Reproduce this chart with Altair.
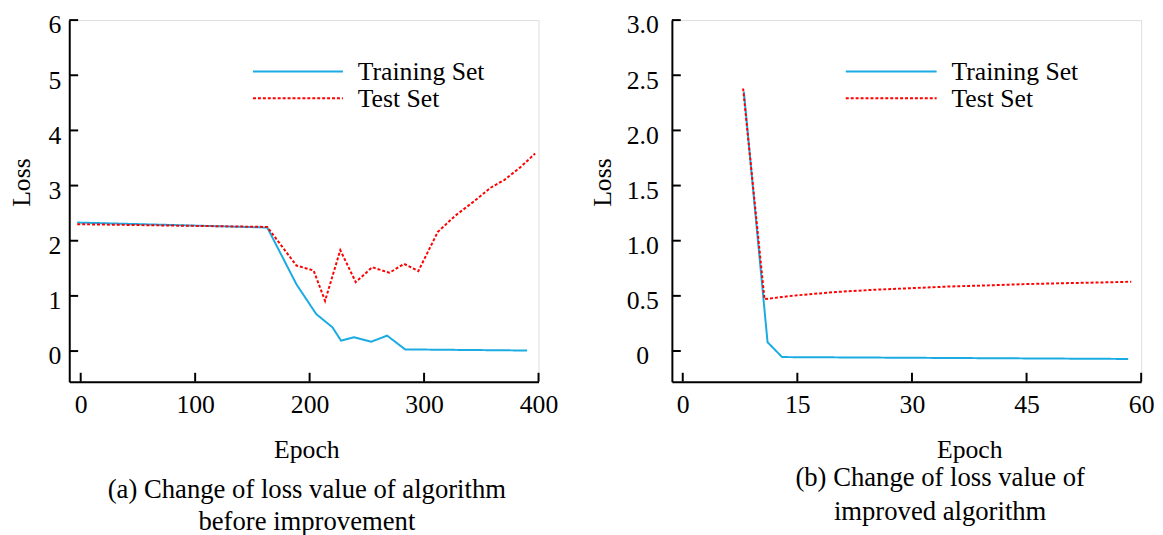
import altair as alt
import pandas as pd

FONT = "Liberation Serif"
BLUE = "#1AABE3"
RED = "#FF0000"
SERIES = ["Training Set", "Test Set"]

# ---- Panel (a): before improvement ----
a_train_epoch = [-3, 163, 188.5, 205.8, 220, 227.4, 238.9, 253.9, 267.7, 283.5, 390]
a_train_loss = [2.33, 2.24, 1.21, 0.67, 0.43, 0.19, 0.25, 0.17, 0.28, 0.03, 0.01]
a_test_epoch = [-3, 163, 188.5, 203.5, 213.5, 226.8, 240.3, 254.7, 269.7, 282.6, 295,
                312, 327, 344, 358, 370, 384, 397]
a_test_loss = [2.30, 2.25, 1.55, 1.46, 0.91, 1.83, 1.25, 1.52, 1.42, 1.58, 1.45,
               2.16, 2.45, 2.72, 2.96, 3.10, 3.33, 3.58]
a_xticks = [0, 100, 200, 300, 400]
a_yticks = [0, 1, 2, 3, 4, 5, 6]

# ---- Panel (b): improved algorithm ----
b_train_epoch = [8.0, 11.1, 13.0, 58.3]
b_train_loss = [2.35, 0.08, -0.055, -0.072]
b_test_epoch = [7.9, 10.7, 13, 15, 20, 25, 30, 35, 40, 45, 50, 55, 58.7]
b_test_loss = [2.38, 0.47, 0.49, 0.505, 0.535, 0.555, 0.57, 0.585, 0.595, 0.607,
               0.615, 0.622, 0.628]
b_xticks = [0, 15, 30, 45, 60]
b_yticks = [0, 0.5, 1.0, 1.5, 2.0, 2.5, 3.0]

W, H = 475, 366
TICK = 9


def panel(tr_x, tr_y, te_x, te_y, xdom, ydom, xticks, yticks, ylabel_expr,
          ylab_pad, x_title_x, y_title_x, legend_x, caption, cap_dx, cap_dy,
          cap_offset, cap_lh):
    df = pd.concat([
        pd.DataFrame({"epoch": tr_x, "loss": tr_y, "series": SERIES[0]}),
        pd.DataFrame({"epoch": te_x, "loss": te_y, "series": SERIES[1]}),
    ])
    xscale = alt.Scale(domain=xdom, nice=False, zero=False)
    yscale = alt.Scale(domain=ydom, nice=False, zero=False)
    xaxis = alt.Axis(values=xticks, ticks=False, tickSize=0, grid=False,
                     domainColor="black", domainWidth=2, labelFont=FONT,
                     labelFontSize=26, labelColor="black", labelPadding=10,
                     labelFlush=False, labelOverlap=False, format="d",
                     title="Epoch", titleFont=FONT, titleFontSize=26,
                     titleFontWeight="normal", titleColor="black",
                     titleX=x_title_x, titleY=69, titleBaseline="middle")
    yargs = dict(values=yticks, ticks=False, tickSize=0, grid=False,
                 domainColor="black", domainWidth=2, labelFont=FONT,
                 labelFontSize=26, labelColor="black", labelPadding=ylab_pad,
                 labelAlign="center", labelBaseline="middle", labelOffset=5,
                 labelFlush=False, labelOverlap=False,
                 title="Loss", titleFont=FONT, titleFontSize=26,
                 titleFontWeight="normal", titleColor="black", titleAngle=270,
                 titleX=y_title_x, titleY=164, titleBaseline="middle")
    if ylabel_expr:
        yargs["labelExpr"] = ylabel_expr
    yaxis = alt.Axis(**yargs)

    lines = alt.Chart(df).mark_line(strokeWidth=2, clip=False).encode(
        x=alt.X("epoch:Q", scale=xscale, axis=xaxis),
        y=alt.Y("loss:Q", scale=yscale, axis=yaxis),
        color=alt.Color("series:N", scale=alt.Scale(domain=SERIES, range=[BLUE, RED]), legend=None),
        strokeDash=alt.StrokeDash("series:N", scale=alt.Scale(domain=SERIES, range=[[1, 0], [3, 2]]), legend=None),
        order=alt.Order("epoch:Q"),
    )
    xt = alt.Chart(pd.DataFrame({"epoch": xticks})).mark_rule(color="black", strokeWidth=2).encode(
        x=alt.X("epoch:Q", scale=xscale, axis=xaxis),
        y=alt.value(H), y2=alt.value(H - TICK),
    )
    yt = alt.Chart(pd.DataFrame({"loss": yticks})).mark_rule(color="black", strokeWidth=2).encode(
        y=alt.Y("loss:Q", scale=yscale, axis=yaxis),
        x=alt.value(0), x2=alt.value(TICK),
    )
    lx0, lx1, tx = legend_x
    leg = []
    leg.append(alt.Chart(pd.DataFrame({"s": [SERIES[0]]})).mark_rule(color=BLUE, strokeWidth=2).encode(
        x=alt.value(lx0), x2=alt.value(lx1), y=alt.value(52)))
    leg.append(alt.Chart(pd.DataFrame({"s": [SERIES[1]]})).mark_rule(color=RED, strokeWidth=2, strokeDash=[3, 2]).encode(
        x=alt.value(lx0), x2=alt.value(lx1), y=alt.value(79)))
    for i, yy in enumerate([61, 88]):
        leg.append(alt.Chart(pd.DataFrame({"s": [SERIES[i]]})).mark_text(
            font=FONT, fontSize=26, align="left", baseline="alphabetic", color="black").encode(
            x=alt.value(tx), y=alt.value(yy), text="s:N"))
    return alt.layer(lines, xt, yt, *leg).properties(
        width=W, height=H,
        title=alt.TitleParams(text=caption, orient="bottom", anchor="middle", frame="group",
                              font=FONT, fontSize=27, fontWeight="normal", color="black",
                              lineHeight=cap_lh, offset=cap_offset, dx=cap_dx, dy=cap_dy),
    )


left = panel(a_train_epoch, a_train_loss, a_test_epoch, a_test_loss,
             [-10, 400], [-0.555, 6], a_xticks, a_yticks, None, 15,
             240, -48.5, (186, 277, 292),
             ["(a) Change of loss value of algorithm", "before improvement"], 3, 0, 15, 32)
right = panel(b_train_epoch, b_train_loss, b_test_epoch, b_test_loss,
              [-1.42, 60], [-0.278, 3.0], b_xticks, b_yticks,
              "datum.value == 0 ? '0' : format(datum.value, '.1f')", 30,
              301, -70, (176, 268, 283),
              ["(b) Change of loss value of", "improved algorithm"], 34, -7, 10, 34)

chart = alt.hconcat(left, right, spacing=31).properties(
    padding={"left": 0, "top": 0, "right": 0, "bottom": 0}
).configure_view(stroke=None).configure(font=FONT)

chart.save("out.html", embed_options={"renderer": "svg", "actions": False})
